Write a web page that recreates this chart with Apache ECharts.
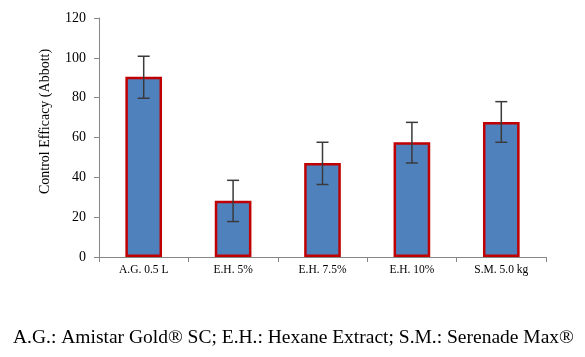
<!DOCTYPE html>
<html>
<head>
<meta charset="utf-8">
<script src="https://cdn.jsdelivr.net/npm/echarts@6/dist/echarts.min.js"></script>
<style>
html, body { margin: 0; padding: 0; background: #fff; }
#chart { width: 585px; height: 357px; }
</style>
</head>
<body>
<div id="chart"></div>
<script>
// data
var categories = ['A.G. 0.5 L', 'E.H. 5%', 'E.H. 7.5%', 'E.H. 10%', 'S.M. 5.0 kg'];
var efficacy = [90.5, 28.2, 47.2, 57.6, 67.8];
var errLow = [79.7, 17.8, 36.4, 47.2, 57.6];
var errHigh = [100.8, 38.5, 57.6, 67.6, 78.0];
var yTicks = [0, 20, 40, 60, 80, 100, 120];

var myChart = echarts.init(document.getElementById('chart'));
var serif = '"Liberation Serif", "DejaVu Serif", serif';

var errData = categories.map(function (c, i) { return [i, errLow[i], errHigh[i]]; });

option = {
    animation: false,
    grid: { left: 99, top: 18, right: 39, bottom: 100 },
    xAxis: {
        type: 'category',
        data: categories,
        axisLine: { lineStyle: { color: '#868686', width: 1 } },
        axisTick: { show: true, length: 5, alignWithLabel: false, lineStyle: { color: '#868686' } },
        axisLabel: { color: '#000', fontFamily: serif, fontSize: 11.5, margin: 7 }
    },
    yAxis: {
        type: 'value',
        min: yTicks[0],
        max: yTicks[yTicks.length - 1],
        interval: 20,
        name: 'Control Efficacy (Abbott)',
        nameLocation: 'middle',
        nameGap: 47,
        nameTextStyle: { color: '#000', fontFamily: serif, fontSize: 14, padding: [0, 0, 0, 32] },
        axisLine: { show: true, lineStyle: { color: '#868686', width: 1 } },
        axisTick: { show: true, length: 5, lineStyle: { color: '#868686' } },
        axisLabel: { color: '#000', fontFamily: serif, fontSize: 14, margin: 13 },
        splitLine: { show: false }
    },
    series: [
        {
            type: 'bar',
            data: efficacy,
            barWidth: '41%',
            itemStyle: { color: '#4F81BD', borderColor: '#C00000', borderWidth: 2.5 }
        },
        {
            type: 'custom',
            data: errData,
            z: 10,
            renderItem: function (params, api) {
                var x = api.value(0);
                var lo = api.coord([x, api.value(1)]);
                var hi = api.coord([x, api.value(2)]);
                var hw = 6;
                var st = { stroke: '#3a3a3a', lineWidth: 1.5 };
                return {
                    type: 'group',
                    children: [
                        { type: 'line', shape: { x1: lo[0], y1: lo[1], x2: hi[0], y2: hi[1] }, style: st },
                        { type: 'line', shape: { x1: lo[0] - hw, y1: lo[1], x2: lo[0] + hw, y2: lo[1] }, style: st },
                        { type: 'line', shape: { x1: hi[0] - hw, y1: hi[1], x2: hi[0] + hw, y2: hi[1] }, style: st }
                    ]
                };
            }
        }
    ],
    graphic: [
        {
            type: 'text',
            x: 13,
            y: 338,
            style: {
                text: 'A.G.: Amistar Gold® SC; E.H.: Hexane Extract; S.M.: Serenade Max®',
                fill: '#000',
                font: '19.5px ' + serif,
                verticalAlign: 'middle'
            }
        }
    ]
};
myChart.setOption(option);
</script>
</body>
</html>
